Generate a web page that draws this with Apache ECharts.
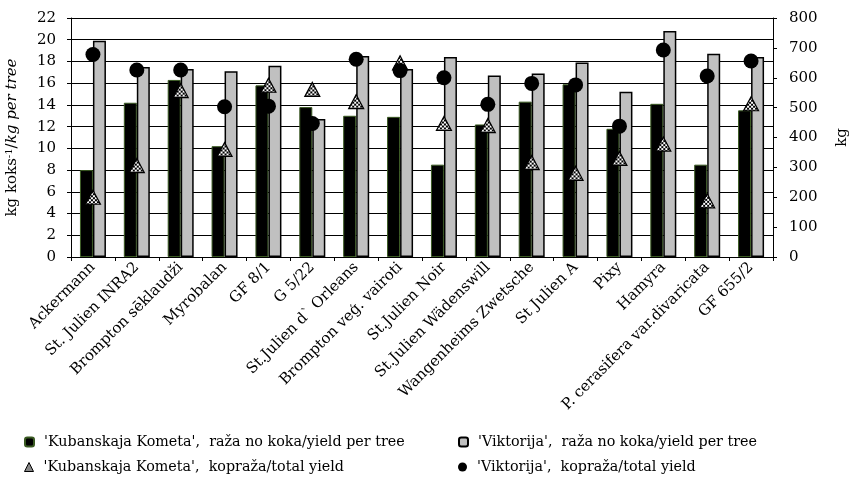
<!DOCTYPE html>
<html>
<head>
<meta charset="utf-8">
<script src="https://cdn.jsdelivr.net/npm/echarts@6/dist/echarts.min.js"></script>
<style>html,body{margin:0;padding:0;background:#fff;}#c{width:850px;height:477px;}</style>
</head>
<body>
<div id="c"></div>
<script>
const categories = ['Ackermann','St. Julien INRA2','Brompton sēklaudži','Myrobalan','GF 8/1','G 5/22',"St.Julien d` Orleans",'Brompton veģ. vairoti','St.Julien Noir','St.Julien Wädenswill','Wangenheims Zwetsche','St Julien A','Pixy','Hamyra','P. cerasifera var.divaricata','GF 655/2'];
const kubYieldPerTree = [8.0,14.2,16.3,10.2,15.8,13.8,13.0,12.9,8.5,12.2,14.3,15.9,11.8,14.1,8.5,13.5];
const vikYieldPerTree = [19.9,17.5,17.3,17.1,17.6,12.7,18.5,17.3,18.4,16.7,16.9,17.9,15.2,20.8,18.7,18.4];
const kubTotalYield = [200,306,557,360,575,561,520,650,447,440,316,280,330,378,188,513];
const vikTotalYield = [678,626,626,503,505,447,662,624,600,511,581,576,438,693,606,656];
const leftTicks = {min:0, max:22, interval:2};
const rightTicks = {min:0, max:800, interval:100};

const names = [
  "'Kubanskaja Kometa',  raža no koka/yield per tree",
  "'Viktorija',  raža no koka/yield per tree",
  "'Kubanskaja Kometa',  kopraža/total yield",
  "'Viktorija',  kopraža/total yield"
];

// checkerboard pattern for triangles
const pc = document.createElement('canvas');
pc.width = 4; pc.height = 4;
const pctx = pc.getContext('2d');
pctx.fillStyle = '#fff'; pctx.fillRect(0,0,4,4);
pctx.fillStyle = '#000'; pctx.fillRect(0,0,2,2); pctx.fillRect(2,2,2,2);
const triW = 15, triH = 14;
// symbols are drawn in unit space and scaled by size/2, so counter-scale the pattern
const triPattern = {image:pc, repeat:'repeat', scaleX:2/triW, scaleY:2/triH};

const font = 'DejaVu Serif';
const fs = 15;
const lfs = 14.3;
function leg(name, left, top, icon){
  const d = icon ? {name:name, itemStyle:icon} : name;
  return {data:[d], orient:'horizontal', left:left, top:top, padding:0, itemWidth:9, itemHeight:9,
    textStyle:{fontFamily:font, fontSize:lfs, color:'#000', padding:[0,0,0,5]}};
}
const chart = echarts.init(document.getElementById('c'), null, {renderer:'canvas'});
chart.setOption({
  animation:false,
  textStyle:{fontFamily:font, color:'#000'},
  grid:{left:71, right:77, top:18, bottom:220, containLabel:false, outerBoundsMode:'none'},
  legend:[
    leg(names[0], 24, 435),
    leg(names[2], 24, 460, {color:'#888', borderColor:'#000', borderWidth:1}),
    leg(names[1], 458, 435),
    leg(names[3], 458, 460)
  ],
  xAxis:{
    type:'category', data:categories,
    axisLine:{lineStyle:{color:'#000', width:1}},
    axisTick:{show:true, length:4, lineStyle:{color:'#000'}},
    axisLabel:{rotate:45, fontSize:fs, color:'#000', fontFamily:font, margin:8, interval:0}
  },
  yAxis:[
    {type:'value', min:leftTicks.min, max:leftTicks.max, interval:leftTicks.interval,
     name:'{a|kg koks}{s|-1}{a|/}{i|kg per tree}', nameLocation:'middle', nameGap:51, nameRotate:90,
     nameTextStyle:{rich:{a:{fontFamily:font, fontSize:fs, color:'#000'}, s:{fontFamily:font, fontSize:10, color:'#000', verticalAlign:'top', padding:[0,0,6,0]}, i:{fontFamily:font, fontSize:fs, fontStyle:'italic', color:'#000'}}},
     axisLine:{show:true, lineStyle:{color:'#000'}},
     axisTick:{show:true, length:4, lineStyle:{color:'#000'}},
     axisLabel:{fontSize:fs, color:'#000', fontFamily:font, margin:15},
     splitLine:{show:true, lineStyle:{color:'#000', width:1}}},
    {type:'value', min:rightTicks.min, max:rightTicks.max, interval:rightTicks.interval, position:'right',
     name:'kg', nameLocation:'middle', nameGap:62, nameRotate:90,
     nameTextStyle:{fontFamily:font, fontSize:fs, color:'#000'},
     axisLine:{show:true, lineStyle:{color:'#000'}},
     axisTick:{show:true, length:4, lineStyle:{color:'#000'}},
     axisLabel:{fontSize:fs, color:'#000', fontFamily:font, margin:16},
     splitLine:{show:false}}
  ],
  series:[
    {name:names[0], type:'bar', yAxisIndex:0, data:kubYieldPerTree, barWidth:13, barGap:'0%',
     itemStyle:{color:'#000', borderColor:'#3a5a22', borderWidth:1}},
    {name:names[1], type:'bar', yAxisIndex:0, data:vikYieldPerTree, barWidth:13,
     itemStyle:{color:'#c0c0c0', borderColor:'#000', borderWidth:1.5}},
    {name:names[2], type:'scatter', yAxisIndex:1, data:kubTotalYield, symbol:'triangle', symbolSize:[triW,triH],
     itemStyle:{color:triPattern, borderColor:'#000', borderWidth:1.2, opacity:1}},
    {name:names[3], type:'scatter', yAxisIndex:1, data:vikTotalYield, symbol:'circle', symbolSize:15,
     itemStyle:{color:'#000', opacity:1}}
  ]
});
</script>
</body>
</html>
